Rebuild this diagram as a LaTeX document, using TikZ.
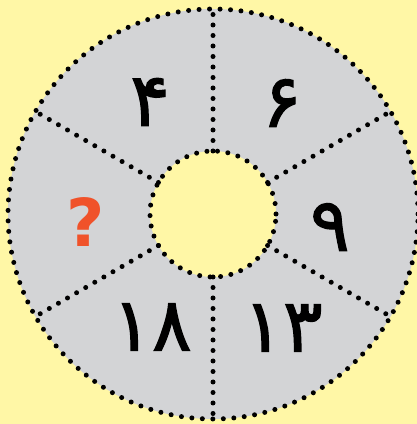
\documentclass[tikz,border=0pt]{standalone}
\usepackage{fontspec}
\setmainfont{DejaVu Sans}
\newfontfamily\arabicfont[Script=Arabic,FakeBold=1.6]{DejaVu Sans}
\usepackage{tikz}
\usetikzlibrary{calc}
\definecolor{bgyellow}{HTML}{FFF7A6}
\definecolor{ringgray}{HTML}{D3D4D6}
\definecolor{qorange}{HTML}{F0522A}
\tikzstyle{dotline} = [
    line width=5pt, line cap=round,
    dash pattern=on 0pt off 10.5pt]
\tikzstyle{digit} = [
    inner sep=0pt,
    font=\fontsize{74}{74}\selectfont\arabicfont]
\tikzstyle{query} = [
    inner sep=0pt, text=qorange,
    font=\fontsize{66}{66}\selectfont\bfseries]

\begin{document}
\begin{tikzpicture}[x=1pt, y=1pt]

  \fill[bgyellow] (0,0) rectangle (417,424);
  \useasboundingbox (0,0) rectangle (417,424);
  \coordinate (c) at (213,210);

  % ring
  \fill[ringgray] (c) circle (205);
  \fill[bgyellow] (c) circle (63);
  \draw[dotline] (c) circle (205);
  \draw[dotline] (c) circle (63);
  \foreach \a in {90,30,-30,-90,-150,150}
    \draw[dotline] ($(c)+(\a:63)$) -- ($(c)+(\a:205)$);

  % numbers
  \node (n6)  [digit] at (282,321) {۶};
  \node (n4)  [digit] at (150,322) {۴};
  \node (n9)  [digit] at (330,197) {۹};
  \node (n13) [digit] at (283,96)  {۱۳};
  \node (n18) [digit] at (152,97)  {۱۸};
  \node (q)   [query] at (86,202)  {?};

\end{tikzpicture}
\end{document}
